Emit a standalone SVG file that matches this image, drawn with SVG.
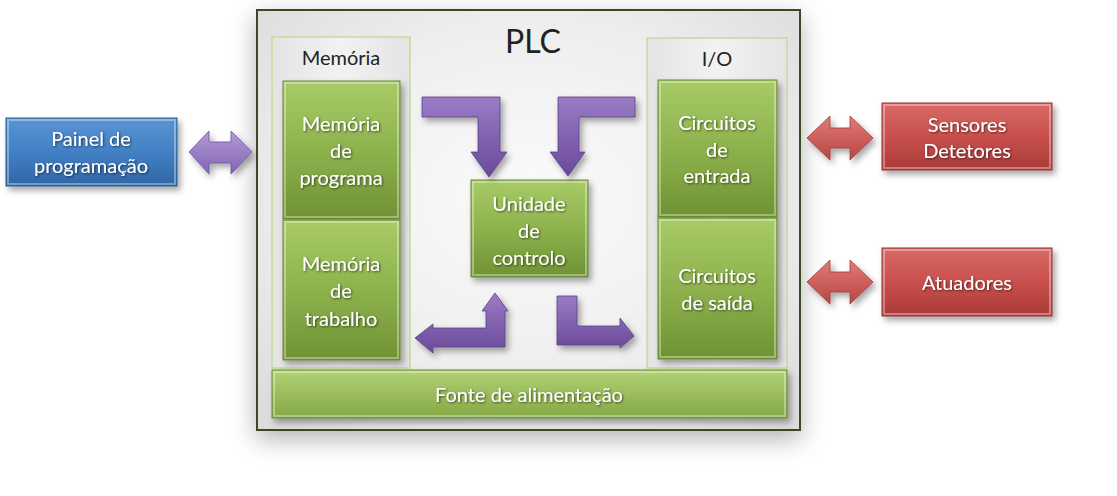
<svg xmlns="http://www.w3.org/2000/svg" width="1117" height="496" viewBox="0 0 1117 496">
<defs>
<style>
.t{font-family:Lato,"Open Sans","Liberation Sans",sans-serif;font-size:20px;fill:#fff;text-anchor:middle;dominant-baseline:central;filter:url(#ts)}
.lbl{font-family:Lato,"Open Sans","Liberation Sans",sans-serif;font-size:20px;fill:#222;text-anchor:middle;dominant-baseline:central}
.grn{fill:url(#gG);stroke:#6a8a34;stroke-width:1}
.red{fill:url(#gR);stroke:#9a3432;stroke-width:1}
.blu{fill:url(#gB);stroke:#2b5d94;stroke-width:1}
.pur{fill:url(#gP);stroke:#5c3f86;stroke-width:0.8}
.purL{fill:url(#gPL);stroke:#6d52a0;stroke-width:0.8}
.redA{fill:url(#gRA);stroke:#a03a38;stroke-width:0.8}
.frame{fill:url(#gF);stroke:#c5da98;stroke-width:1.5}
.hl{fill:none;stroke:#ffffff;stroke-opacity:0.35;stroke-width:2}
</style>
<linearGradient id="gG" x1="0" y1="0" x2="0" y2="1">
<stop offset="0" stop-color="#a8cb68"/><stop offset="0.5" stop-color="#8db24d"/><stop offset="1" stop-color="#6f9233"/>
</linearGradient>
<linearGradient id="gF2" x1="0" y1="0" x2="0" y2="1">
<stop offset="0" stop-color="#b2d274"/><stop offset="1" stop-color="#84a845"/>
</linearGradient>
<linearGradient id="gR" x1="0" y1="0" x2="0" y2="1">
<stop offset="0" stop-color="#d86a66"/><stop offset="0.5" stop-color="#c8504d"/><stop offset="1" stop-color="#aa3a38"/>
</linearGradient>
<linearGradient id="gB" x1="0" y1="0" x2="0" y2="1">
<stop offset="0" stop-color="#5a95d4"/><stop offset="0.5" stop-color="#4280c4"/><stop offset="1" stop-color="#2f66a6"/>
</linearGradient>
<linearGradient id="gP" x1="0" y1="0" x2="0" y2="1">
<stop offset="0" stop-color="#9a7cc6"/><stop offset="1" stop-color="#6a4a9a"/>
</linearGradient>
<linearGradient id="gPL" x1="0" y1="0" x2="0" y2="1">
<stop offset="0" stop-color="#b49ad8"/><stop offset="1" stop-color="#8264b2"/>
</linearGradient>
<linearGradient id="gRA" x1="0" y1="0" x2="0" y2="1">
<stop offset="0" stop-color="#e27a76"/><stop offset="1" stop-color="#b84644"/>
</linearGradient>
<radialGradient id="gPLC" cx="0.5" cy="0.45" r="0.7">
<stop offset="0" stop-color="#fbfbfb"/><stop offset="0.6" stop-color="#eeeeee"/><stop offset="1" stop-color="#dcdcdc"/>
</radialGradient>
<linearGradient id="gF" x1="0" y1="0" x2="1" y2="0">
<stop offset="0" stop-color="#e4e4e4"/><stop offset="0.5" stop-color="#f2f2f2"/><stop offset="1" stop-color="#e4e4e4"/>
</linearGradient>
<filter id="sh" x="-20%" y="-20%" width="150%" height="150%">
<feDropShadow dx="3" dy="4" stdDeviation="3" flood-color="#000" flood-opacity="0.35"/>
</filter>
<filter id="big" x="-10%" y="-10%" width="120%" height="125%">
<feDropShadow dx="0" dy="8" stdDeviation="12" flood-color="#000" flood-opacity="0.3"/>
</filter>
<filter id="ts" x="-10%" y="-20%" width="120%" height="150%">
<feDropShadow dx="1" dy="1" stdDeviation="0.8" flood-color="#000" flood-opacity="0.6"/>
</filter>
</defs>
<rect width="1117" height="496" fill="#ffffff"/>

<g id="node-plc">
<rect x="257" y="10" width="543" height="420" fill="url(#gPLC)" stroke="#3b4a22" stroke-width="2" filter="url(#big)"/>
<text x="533" y="40" class="lbl" style="font-size:32px">PLC</text>
</g>

<g id="node-memoria">
<rect x="272" y="37" width="138" height="331" class="frame"/>
<text x="341" y="57" class="lbl">Memória</text>
</g>
<g id="node-mem-prog" filter="url(#sh)">
<rect x="283" y="81" width="117" height="138" class="grn"/>
<rect x="285" y="83" width="113" height="134" class="hl"/>
<text x="341" y="123" class="t">Memória</text>
<text x="341" y="150" class="t">de</text>
<text x="341" y="177" class="t">programa</text>
</g>
<g id="node-mem-trab" filter="url(#sh)">
<rect x="283" y="220" width="117" height="140" class="grn"/>
<rect x="285" y="222" width="113" height="136" class="hl"/>
<text x="341" y="263" class="t">Memória</text>
<text x="341" y="290" class="t">de</text>
<text x="341" y="318" class="t">trabalho</text>
</g>

<g id="node-io">
<rect x="647" y="38" width="140" height="330" class="frame"/>
<text x="717" y="58" class="lbl">I/O</text>
</g>
<g id="node-circ-ent" filter="url(#sh)">
<rect x="658" y="80" width="119" height="137" class="grn"/>
<rect x="660" y="82" width="115" height="133" class="hl"/>
<text x="717" y="122" class="t">Circuitos</text>
<text x="717" y="149" class="t">de</text>
<text x="717" y="175" class="t">entrada</text>
</g>
<g id="node-circ-sai" filter="url(#sh)">
<rect x="658" y="218" width="119" height="141" class="grn"/>
<rect x="660" y="220" width="115" height="137" class="hl"/>
<text x="717" y="275" class="t">Circuitos</text>
<text x="717" y="302" class="t">de saída</text>
</g>

<g id="node-unidade" filter="url(#sh)">
<rect x="471" y="180" width="117" height="97" class="grn"/>
<rect x="473" y="182" width="113" height="93" class="hl"/>
<text x="529" y="203" class="t">Unidade</text>
<text x="529" y="230" class="t">de</text>
<text x="529" y="257" class="t">controlo</text>
</g>

<g id="node-fonte" filter="url(#sh)">
<rect x="272" y="370" width="515" height="48" fill="url(#gF2)" stroke="#6a8a34" stroke-width="1"/>
<rect x="274" y="372" width="511" height="44" class="hl"/>
<text x="529" y="394" class="t">Fonte de alimentação</text>
</g>

<g id="node-painel" filter="url(#sh)">
<rect x="6" y="118" width="171" height="68" class="blu"/>
<rect x="8" y="120" width="167" height="64" class="hl"/>
<text x="91" y="138" class="t">Painel de</text>
<text x="91" y="165" class="t">programação</text>
</g>

<g id="node-sensores" filter="url(#sh)">
<rect x="882" y="103" width="170" height="67" class="red"/>
<rect x="884" y="105" width="166" height="63" class="hl"/>
<text x="967" y="124" class="t">Sensores</text>
<text x="967" y="150" class="t">Detetores</text>
</g>

<g id="node-atuadores" filter="url(#sh)">
<rect x="882" y="248" width="170" height="68" class="red"/>
<rect x="884" y="250" width="166" height="64" class="hl"/>
<text x="967" y="282" class="t">Atuadores</text>
</g>

<g id="connectors" filter="url(#sh)">
<path class="purL" d="M189,152 L209,131 L209,142 L231,142 L231,131 L252,152 L231,174 L231,163 L209,163 L209,174 Z"/>
<path class="redA" d="M807,138 L830,116 L830,128 L850,128 L850,116 L873,138 L850,160 L850,148 L830,148 L830,160 Z"/>
<path class="redA" d="M807,282 L830,260 L830,272 L850,272 L850,260 L873,282 L850,304 L850,292 L830,292 L830,304 Z"/>
<path class="pur" d="M422,97 L500,97 L500,152 L507,152 L489,177 L471,152 L478,152 L478,117 L422,117 Z"/>
<path class="pur" d="M635,97 L558,97 L558,152 L550,152 L568,176 L585,152 L579,152 L579,117 L635,117 Z"/>
<path class="pur" d="M495,293 L508,311 L505,311 L505,347 L433,347 L433,353 L415,338 L433,324 L433,328 L486,328 L486,311 L482,311 Z"/>
<path class="pur" d="M557,296 L577,296 L577,326 L620,326 L620,318 L634,336 L620,348 L620,345 L557,345 Z"/>
</g>
</svg>
